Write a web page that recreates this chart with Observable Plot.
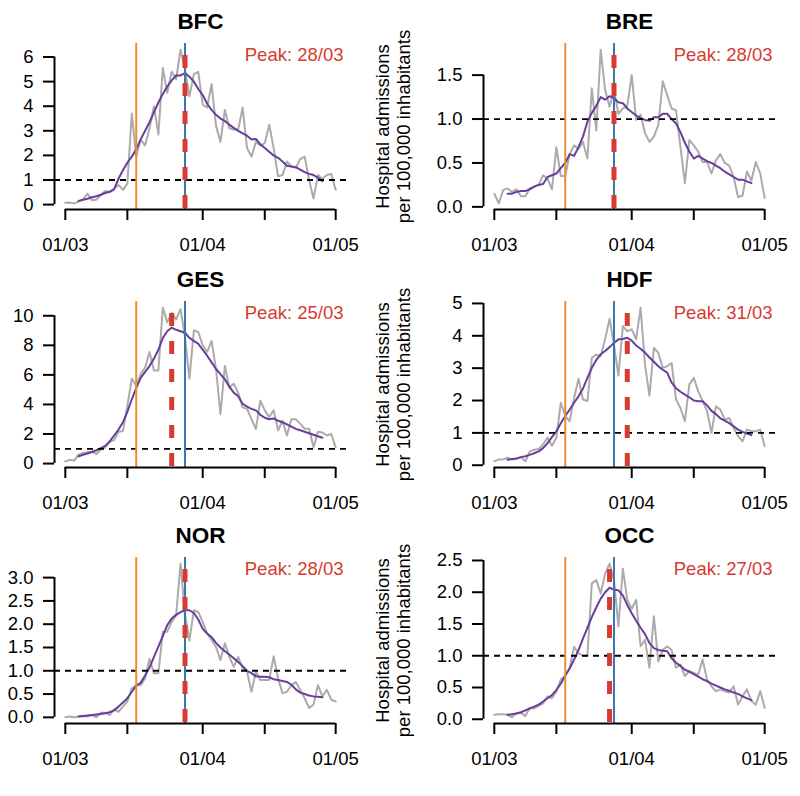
<!DOCTYPE html>
<html><head><meta charset="utf-8">
<script src="https://cdn.jsdelivr.net/npm/d3@7"></script>
<script src="https://cdn.jsdelivr.net/npm/@observablehq/plot@0.6"></script>
<style>
body{margin:0;background:#fff;}
#chart{position:relative;width:800px;height:796px;font-family:"Liberation Sans",Arial,sans-serif;}
#chart > div{position:absolute;}
</style></head><body><div id="chart"></div>
<script>
// ---- data (day index 0 = 01/03) ----
const regions = ["BFC","BRE","GES","HDF","NOR","OCC"];

const bfcRaw = [0.07,0.08,0.05,0.12,0.2,0.45,0.18,0.2,0.38,0.55,0.5,0.65,0.8,0.6,0.85,3.7,1.95,2.65,2.4,3.1,4.0,2.85,5.55,4.55,5.4,5.1,6.3,5.5,4.4,5.3,5.4,4.05,3.95,4.9,3.2,2.55,3.85,3.1,3.05,3.05,3.95,2.3,1.95,2.55,2.4,2.5,3.25,2.3,1.15,1.2,1.75,1.55,1.5,1.85,1.95,1.0,0.25,1.2,1.05,1.2,1.25,0.6];
const breRaw = [0.15,0.04,0.19,0.21,0.17,0.2,0.12,0.12,0.21,0.23,0.25,0.36,0.32,0.2,0.68,0.35,0.35,0.6,0.7,0.66,0.74,0.55,1.35,0.87,1.79,1.33,1.14,1.33,1.06,1.12,1.15,1.5,0.99,1.05,0.84,0.74,0.8,0.93,1.43,1.27,1.12,1.1,0.68,0.27,0.76,0.7,0.63,0.51,0.51,0.38,0.53,0.6,0.5,0.47,0.34,0.11,0.13,0.4,0.3,0.51,0.38,0.1];
const gesRaw = [0.15,0.25,0.2,0.6,0.72,0.77,0.8,0.65,0.95,1.1,1.45,1.6,2.15,2.2,3.9,5.75,5.25,6.05,6.5,7.55,6.3,6.3,10.55,9.55,10.2,9.75,10.45,8.55,5.75,9.0,8.9,8.0,7.55,8.3,6.4,3.35,6.6,5.15,5.4,4.8,3.8,3.7,3.0,2.35,4.25,3.6,3.15,3.6,2.25,2.9,1.9,3.0,3.0,2.7,2.35,2.35,1.1,2.15,2.1,1.9,2.0,1.1];
const hdfRaw = [0.12,0.18,0.18,0.23,0.18,0.2,0.25,0.12,0.43,0.48,0.5,0.64,0.85,0.6,0.85,1.93,1.52,1.36,2.08,2.67,2.03,1.98,3.32,3.42,3.37,3.89,4.53,3.73,2.77,4.3,4.14,4.2,3.89,4.87,3.11,2.15,3.63,3.47,3.01,3.06,3.16,2.03,1.77,1.36,2.49,2.7,2.29,1.98,1.67,1.0,1.82,1.72,1.41,1.46,1.15,0.9,0.74,1.1,1.05,1.05,1.1,0.59];
const norRaw = [0.0,0.02,0.0,0.02,0.03,0.02,0.05,0.0,0.1,0.1,0.05,0.17,0.12,0.23,0.34,0.62,0.69,0.69,0.84,1.26,0.94,0.95,1.84,1.84,2.05,2.19,3.3,2.2,1.65,2.3,2.26,2.05,1.8,1.66,1.51,1.23,1.59,1.3,1.09,1.3,1.05,0.98,0.55,0.98,0.8,0.8,0.8,1.31,0.84,0.52,0.55,0.69,0.76,0.59,0.41,0.2,0.27,0.69,0.45,0.59,0.38,0.34];
const occRaw = [0.07,0.08,0.08,0.07,0.03,0.1,0.1,0.05,0.18,0.17,0.21,0.25,0.36,0.33,0.44,0.63,0.68,0.81,1.14,1.04,1.0,1.0,2.14,2.19,1.98,2.29,2.45,2.19,1.46,2.37,1.88,1.74,1.88,1.15,1.25,0.81,1.62,0.91,1.09,1.15,1.09,0.81,0.86,0.68,0.76,0.73,0.7,0.94,0.62,0.52,0.44,0.47,0.44,0.42,0.52,0.23,0.36,0.47,0.29,0.23,0.44,0.18];

// smoothed series, days 3..58
const smoothStartDay = 3;
const bfcSmooth = [0.15,0.2,0.24,0.3,0.34,0.4,0.47,0.52,0.62,1.05,1.4,1.7,1.95,2.25,2.65,3.0,3.35,3.75,4.15,4.5,4.8,5.05,5.25,5.25,5.35,5.2,5.0,4.7,4.45,4.1,3.85,3.65,3.5,3.4,3.25,3.12,3.0,2.9,2.8,2.65,2.67,2.45,2.3,2.15,2.0,1.9,1.75,1.58,1.55,1.52,1.42,1.32,1.25,1.2,1.1,0.95];
const breSmooth = [0.15,0.15,0.17,0.18,0.18,0.2,0.23,0.25,0.26,0.34,0.36,0.38,0.44,0.5,0.6,0.58,0.68,0.8,0.97,1.07,1.15,1.25,1.22,1.26,1.24,1.19,1.18,1.12,1.08,1.04,1.01,0.99,0.98,1.02,1.02,1.06,1.06,1.0,0.95,0.85,0.73,0.63,0.55,0.58,0.55,0.52,0.5,0.47,0.44,0.4,0.37,0.34,0.31,0.31,0.29,0.27];
const gesSmooth = [0.5,0.6,0.68,0.78,0.9,1.05,1.2,1.5,1.9,2.3,2.8,3.5,4.35,5.1,5.8,6.2,6.6,7.1,7.7,8.5,8.95,9.2,9.05,8.95,8.85,8.5,8.3,8.1,7.7,7.3,6.85,6.4,6.05,5.7,5.2,4.8,4.55,4.05,3.85,3.7,3.6,3.3,3.1,3.0,3.05,2.9,2.8,2.65,2.5,2.35,2.25,2.15,2.05,1.95,1.85,1.75];
const hdfSmooth = [0.17,0.19,0.21,0.25,0.28,0.32,0.37,0.43,0.53,0.68,0.87,1.05,1.3,1.52,1.72,1.93,2.13,2.37,2.7,3.01,3.25,3.43,3.53,3.65,3.78,3.89,3.9,3.94,3.85,3.7,3.6,3.48,3.33,3.2,3.06,2.95,2.86,2.55,2.38,2.27,2.18,2.1,2.0,1.98,1.98,1.85,1.68,1.58,1.45,1.38,1.3,1.2,1.1,1.03,0.98,0.93];
const norSmooth = [0.02,0.03,0.04,0.05,0.06,0.07,0.09,0.11,0.15,0.23,0.32,0.41,0.55,0.68,0.74,0.9,1.07,1.3,1.52,1.75,1.98,2.12,2.2,2.26,2.3,2.3,2.24,2.1,1.9,1.8,1.72,1.6,1.5,1.42,1.35,1.27,1.19,1.1,1.0,0.95,0.88,0.87,0.87,0.86,0.82,0.8,0.78,0.76,0.7,0.6,0.53,0.5,0.47,0.45,0.44,0.43];
const occSmooth = [0.07,0.08,0.09,0.11,0.14,0.17,0.2,0.23,0.28,0.33,0.38,0.46,0.56,0.69,0.8,0.94,1.09,1.27,1.44,1.61,1.76,1.9,2.0,2.07,2.04,2.03,1.95,1.8,1.67,1.55,1.44,1.34,1.2,1.12,1.09,1.08,1.07,0.96,0.89,0.84,0.78,0.75,0.71,0.67,0.63,0.6,0.56,0.53,0.5,0.47,0.45,0.42,0.4,0.36,0.33,0.3];

const peakDays = [27,27,24,30,27,26];
const peakLabels = ["28/03","28/03","25/03","31/03","28/03","27/03"];
const lockdownDay = 16;   // 17/03
const markerDay = 27;     // 28/03
const threshold = 1;

const xTickDays = [0,14,31,45,61];
const xTickLabels = ["01/03","","01/04","","01/05"];
const yTicksBFC = [0,1,2,3,4,5,6];
const yTicksBRE = [0,0.5,1,1.5];
const yTicksGES = [0,2,4,6,8,10];
const yTicksHDF = [0,1,2,3,4,5];
const yTicksNOR = [0,0.5,1,1.5,2,2.5,3];
const yTicksOCC = [0,0.5,1,1.5,2,2.5];
const yTickDecimals = [0,1,0,0,1,1];
const yLabelLines = ["Hospital admissions","per 100,000 inhabitants"];

const raws = [bfcRaw,breRaw,gesRaw,hdfRaw,norRaw,occRaw];
const smooths = [bfcSmooth,breSmooth,gesSmooth,hdfSmooth,norSmooth,occSmooth];
const yTicksAll = [yTicksBFC,yTicksBRE,yTicksGES,yTicksHDF,yTicksNOR,yTicksOCC];

// ---- styling ----
const C = {grey:"#ababab", purple:"#6a3d9a", orange:"#f08c2e", blue:"#3a76b2", red:"#d73a2f"};
const FONT = "Liberation Sans, Arial, sans-serif";
const FS = 18.5;

const chart = document.getElementById("chart");
const rowTops = [0,258,514];

regions.forEach((name, i) => {
  const col = i % 2, row = Math.floor(i / 2);
  const right = col === 1;
  const raw = raws[i].map((v, d) => ({day: d, v}));
  const smooth = smooths[i].map((v, k) => ({day: k + smoothStartDay, v}));
  const [lo, hi] = d3.extent(raws[i]);
  const pad = (hi - lo) * 0.04;
  const n = raws[i].length - 1;
  const xDom = [-n * 0.04, n * 1.04];
  const yDom = [lo - pad, hi + pad];
  const yt = yTicksAll[i];
  const fmt = yTickDecimals[i] ? d3.format(".1f") : d3.format("d");
  const W = right ? 430 : 370;
  const ML = right ? 113 : 54, MR = right ? 25 : 24;

  const marks = [
    Plot.line(raw, {x: "day", y: "v", stroke: C.grey, strokeWidth: 2}),
    Plot.line(smooth, {x: "day", y: "v", stroke: C.purple, strokeWidth: 2}),
    Plot.ruleY([threshold], {stroke: "black", strokeWidth: 1.8, strokeDasharray: "6,5"}),
    Plot.ruleX([lockdownDay], {stroke: C.orange, strokeWidth: 2}),
    Plot.ruleX([markerDay], {stroke: C.blue, strokeWidth: 2}),
    Plot.ruleX([peakDays[i]], {stroke: C.red, strokeWidth: 5, strokeDasharray: "13,15", strokeDashoffset: 16}),
    // R-style axes
    Plot.ruleY([yDom[0]], {x1: xTickDays[0], x2: xTickDays[xTickDays.length - 1], stroke: "black", strokeWidth: 2}),
    Plot.ruleX([xDom[0]], {y1: yt[0], y2: yt[yt.length - 1], stroke: "black", strokeWidth: 2}),
    Plot.axisX({ticks: xTickDays, tickFormat: (d, j) => xTickLabels[xTickDays.indexOf(d)], tickSize: 11, tickPadding: 17, strokeWidth: 2, fontSize: FS, label: null, fill: "black"}),
    Plot.axisY({ticks: yt, tickFormat: fmt, tickSize: 11, tickPadding: 10, strokeWidth: 2, fontSize: FS, label: null, fill: "black"}),
    Plot.text([name], {frameAnchor: "top", lineAnchor: "bottom", dy: -15, fontSize: 22.5, fontWeight: "bold", fill: "black"}),
    Plot.text(["Peak: " + peakLabels[i]], {frameAnchor: "top-right", textAnchor: "end", lineAnchor: "top", dx: -3, dy: 4, fontSize: FS, fill: C.red})
  ];
  if (right) {
    marks.push(Plot.text([yLabelLines[0]], {frameAnchor: "left", rotate: -90, textAnchor: "middle", lineAnchor: "middle", dx: -100, fontSize: FS, fill: "black"}));
    marks.push(Plot.text([yLabelLines[1]], {frameAnchor: "left", rotate: -90, textAnchor: "middle", lineAnchor: "middle", dx: -79, fontSize: FS, fill: "black"}));
  }

  const svg = Plot.plot({
    width: W, height: 257,
    marginTop: 43, marginBottom: 48, marginLeft: ML, marginRight: MR,
    x: {domain: xDom, axis: null},
    y: {domain: yDom, axis: null},
    style: {fontFamily: FONT, fontSize: FS + "px", color: "black", background: "white", overflow: "visible"},
    marks
  });
  const holder = document.createElement("div");
  holder.style.left = (right ? 370 : 0) + "px";
  holder.style.top = rowTops[row] + "px";
  holder.appendChild(svg);
  chart.appendChild(holder);
});
</script></body></html>
